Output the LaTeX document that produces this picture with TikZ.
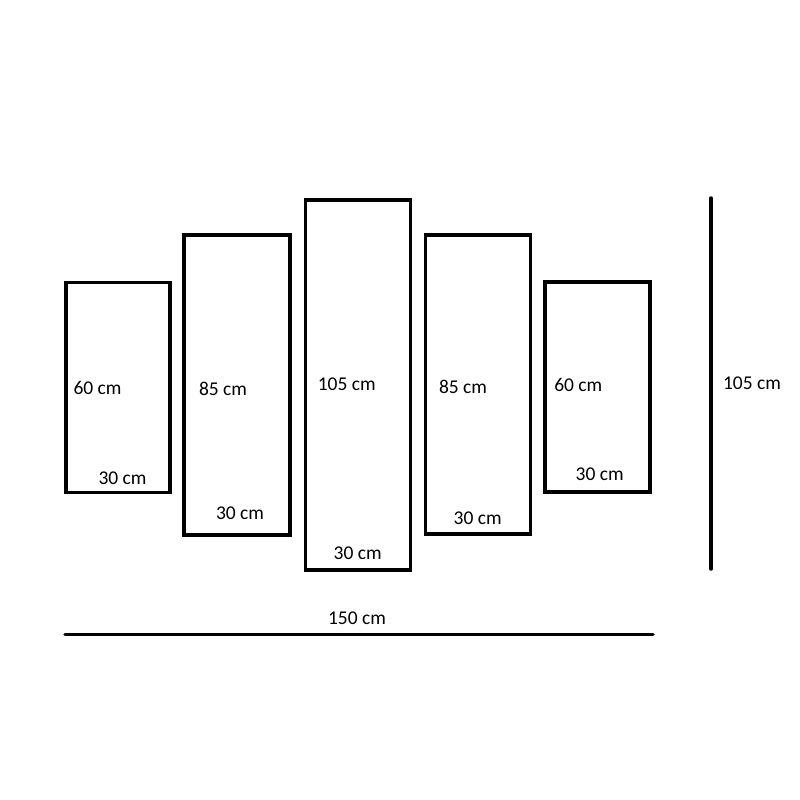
\documentclass[tikz,border=0pt]{standalone}
\usepackage{fontspec}
\setmainfont{Carlito}
\begin{document}
\begin{tikzpicture}[x=1pt,y=-1pt,
  panel/.style={draw=black,line width=3.5pt,inner sep=0pt,fill=none},
  lbl/.style={inner sep=0pt,font=\fontsize{19.5}{23}\selectfont},
  dimline/.style={line width=3.5pt,line cap=round}]
\useasboundingbox (0,0) rectangle (800,800);
% panels
\node[panel,minimum width=104pt,minimum height=210pt] (p1) at (118,387.5) {};
\node[panel,minimum width=106pt,minimum height=300pt] (p2) at (237,385) {};
\node[panel,minimum width=105pt,minimum height=370pt] (p3) at (358,385) {};
\node[panel,minimum width=105pt,minimum height=299pt] (p4) at (478,384.5) {};
\node[panel,minimum width=105pt,minimum height=210pt] (p5) at (597.5,387) {};
% labels
\node[lbl] (h1) at (97.5,388) {60 cm};
\node[lbl] (w1) at (122.5,478) {30 cm};
\node[lbl] (h2) at (223,389) {85 cm};
\node[lbl] (w2) at (240,513.5) {30 cm};
\node[lbl] (h3) at (346.7,384.2) {105 cm};
\node[lbl] (w3) at (357.7,553.7) {30 cm};
\node[lbl] (h4) at (463,386.5) {85 cm};
\node[lbl] (w4) at (477.7,517.8) {30 cm};
\node[lbl] (h5) at (578.3,385) {60 cm};
\node[lbl] (w5) at (599.7,474.5) {30 cm};
\node[lbl] (ht) at (752,383.5) {105 cm};
\node[lbl] (wt) at (357,618) {150 cm};
% dimension lines
\coordinate (vt) at (711,198);
\coordinate (vb) at (711,569);
\coordinate (hl) at (65,634.5);
\coordinate (hr) at (653,634.5);
\draw[dimline] (vt) -- (vb);
\draw[dimline] (hl) -- (hr);
\end{tikzpicture}
\end{document}
